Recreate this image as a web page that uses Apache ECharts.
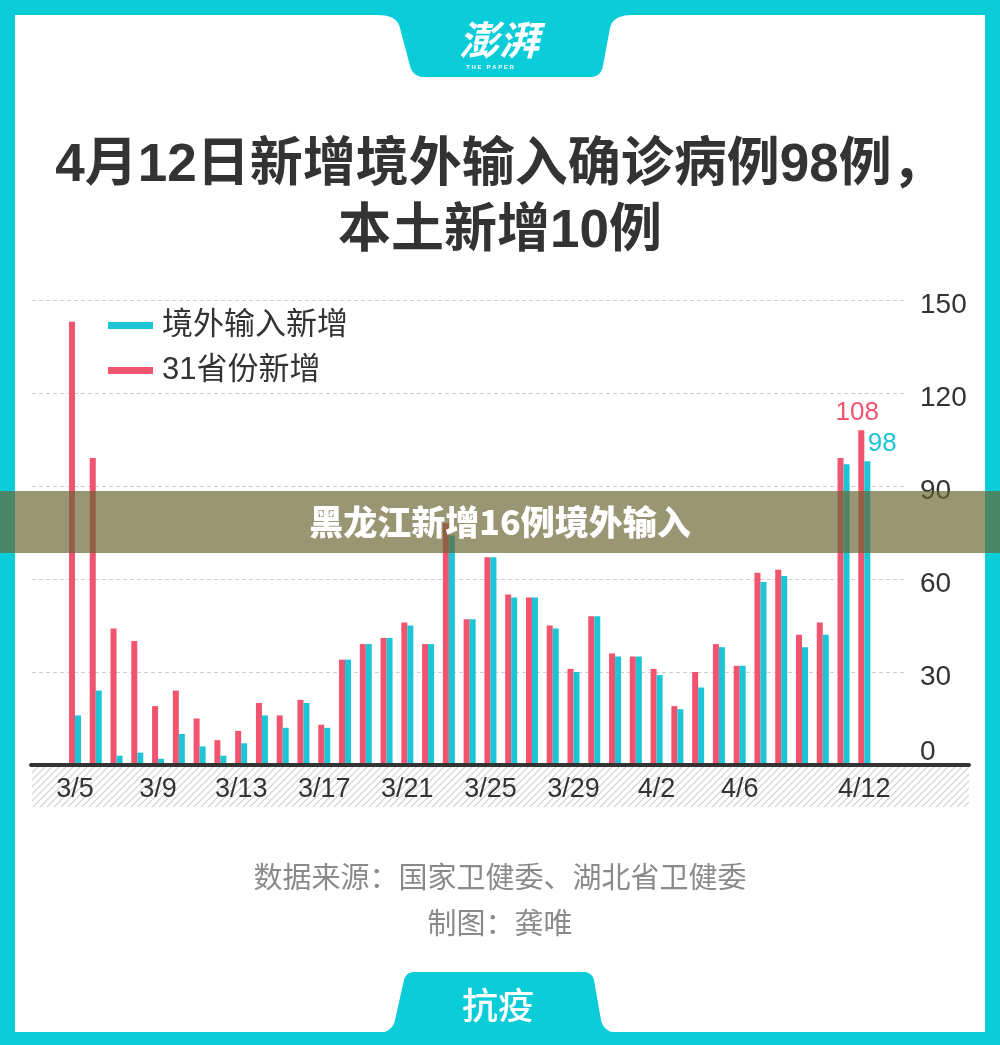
<!DOCTYPE html>
<html>
<head>
<meta charset="utf-8">
<script src="https://cdn.jsdelivr.net/npm/echarts@6/dist/echarts.min.js"></script>
<style>
html,body{margin:0;padding:0;background:#0BCDDA;}
#chart{width:1000px;height:1045px;}
</style>
</head>
<body>
<div id="chart"></div>
<script>
// ---- data ----
const categories = ['3/5','3/6','3/7','3/8','3/9','3/10','3/11','3/12','3/13','3/14','3/15','3/16','3/17','3/18','3/19','3/20','3/21','3/22','3/23','3/24','3/25','3/26','3/27','3/28','3/29','3/30','3/31','4/1','4/2','4/3','4/4','4/5','4/6','4/7','4/8','4/9','4/10','4/11','4/12'];
const tickLabels = ['3/5','3/9','3/13','3/17','3/21','3/25','3/29','4/2','4/6','4/12'];
const provinceNew = [143,99,44,40,19,24,15,8,11,20,16,21,13,34,39,41,46,39,78,47,67,55,54,45,31,48,36,35,31,19,30,39,32,62,63,42,46,99,108];
const importedNew = [16,24,3,4,2,10,6,3,7,16,12,20,12,34,39,41,45,39,74,47,67,54,54,44,30,48,35,35,29,18,25,38,32,59,61,38,42,97,98];
const yTicks = [0,30,60,90,120,150];
const seriesNames = ['境外输入新增','31省份新增'];

const TEAL = '#1BC5D6';
const RED = '#F0546F';
const BORDER = '#0BCDDA';
const LAT = "'Liberation Sans','Noto Sans CJK SC',sans-serif";
const CJK = "'Noto Sans CJK SC','Liberation Sans',sans-serif";

// decorative shape helper: polyline through segments with quadratic curves
function shapePts(cmds) {
  const pts = [];
  let cur = null;
  cmds.forEach(c => {
    if (c[0] === 'M' || c[0] === 'L') { cur = [c[1], c[2]]; pts.push(cur); }
    else if (c[0] === 'Q') {
      const [_, cx, cy, x, y] = c; const p0 = cur;
      for (let t = 1; t <= 10; t++) {
        const s = t / 10, u = 1 - s;
        pts.push([u*u*p0[0] + 2*u*s*cx + s*s*x, u*u*p0[1] + 2*u*s*cy + s*s*y]);
      }
      cur = [x, y];
    }
  });
  return pts;
}
const topTab = shapePts([['M',378,13],['L',378,15],['Q',397,15,400,28],['L',410,66],['Q',413,77,424,77],['L',590,77],['Q',601,77,603,66],['L',610,28],['Q',613,15,632,15],['L',632,13]]);
const botTab = shapePts([['M',372,1034],['Q',392,1034,395,1020],['L',404,980],['Q',406,972,415,972],['L',583,972],['Q',592,972,594,980],['L',601,1020],['Q',604,1034,624,1034]]);

// hatch pattern
const pc = document.createElement('canvas');
pc.width = 7; pc.height = 7;
const pctx = pc.getContext('2d');
pctx.fillStyle = '#ffffff'; pctx.fillRect(0,0,7,7);
pctx.strokeStyle = '#d0d0d0'; pctx.lineWidth = 1.2;
pctx.beginPath();
pctx.moveTo(0,7); pctx.lineTo(7,0);
pctx.moveTo(-1,1); pctx.lineTo(1,-1);
pctx.moveTo(6,8); pctx.lineTo(8,6);
pctx.stroke();

const lastIdx = categories.length - 1;
const redData = provinceNew.map((v,i) => i === lastIdx ? {value:v, label:{show:true, position:'top', distance:4, offset:[-4,0], color:RED, fontSize:26, fontFamily:LAT}} : v);
const tealData = importedNew.map((v,i) => i === lastIdx ? {value:v, label:{show:true, position:'top', distance:4, offset:[15,0], color:TEAL, fontSize:26, fontFamily:LAT}} : v);

const chart = echarts.init(document.getElementById('chart'), null, {renderer:'canvas'});
const option = {
  backgroundColor: BORDER,
  animation: false,
  title: [
    {text:'4月12日新增境外输入确诊病例98例，\n本土新增10例', left:'center', top:128,
     textStyle:{fontSize:53, fontWeight:'bold', color:'#333', fontFamily:LAT, lineHeight:66, align:'center'}},
    {text:'数据来源：国家卫健委、湖北省卫健委', left:'center', top:857,
     textStyle:{fontSize:29, fontWeight:'normal', color:'#8a8a8a', fontFamily:CJK}},
    {text:'制图：龚唯', left:'center', top:903,
     textStyle:{fontSize:29, fontWeight:'normal', color:'#8a8a8a', fontFamily:CJK}}
  ],
  legend: {
    data: seriesNames, orient:'vertical', left:108, top:310, itemGap:14, padding:0,
    itemWidth:45, itemHeight:7, icon:'rect',
    textStyle:{fontSize:31, color:'#333', fontFamily:LAT, lineHeight:30, padding:[0,0,0,4]}
  },
  grid: [
    {left:32, right:94, top:300, bottom:280},
    {left:64.6, right:125.3, top:300, bottom:280},
    {left:31, right:31, top:300, bottom:280}
  ],
  xAxis: [
    {type:'category', gridIndex:0, data:categories, show:false},
    {type:'category', gridIndex:1, data:categories,
     axisLine:{show:false}, axisTick:{show:false},
     axisLabel:{interval:(i,v)=>tickLabels.includes(v), margin:11, fontSize:27, color:'#333', fontFamily:LAT}},
    {type:'category', gridIndex:2, data:categories, z:5,
     axisLine:{show:true, lineStyle:{color:'#333', width:4}}, axisTick:{show:false}, axisLabel:{show:false}}
  ],
  yAxis: [
    {type:'value', gridIndex:0, position:'right', min:yTicks[0], max:yTicks[yTicks.length-1], interval:30,
     axisLine:{show:false}, axisTick:{show:false},
     splitLine:{show:true, lineStyle:{color:'#cfcfcf', type:[4,3], width:1}},
     axisLabel:{margin:14, color:'#333', fontSize:28, fontFamily:LAT,
       formatter: v => v === 0 ? '{z|0}' : '{n|' + v + '}',
       rich:{
         n:{fontSize:28, color:'#333', fontFamily:LAT, padding:[10,0,0,0]},
         z:{fontSize:28, color:'#333', fontFamily:LAT, padding:[0,0,26,0]}
       }}},
    {type:'value', gridIndex:1, min:yTicks[0], max:yTicks[yTicks.length-1], interval:30, show:false, splitLine:{show:false}},
    {type:'value', gridIndex:2, min:0, max:150, show:false, splitLine:{show:false}}
  ],
  series: [
    {name:seriesNames[1], type:'bar', xAxisIndex:1, yAxisIndex:1, barWidth:6, barGap:'0%',
     itemStyle:{color:RED}, data:redData},
    {name:seriesNames[0], type:'bar', xAxisIndex:1, yAxisIndex:1, barWidth:6, barGap:'0%',
     itemStyle:{color:TEAL}, data:tealData}
  ],
  graphic: [
    {type:'rect', z:-10, shape:{x:15, y:15, width:970, height:1017}, style:{fill:'#ffffff'}},
    {type:'polygon', z:-5, shape:{points:topTab}, style:{fill:BORDER}},
    {type:'polygon', z:-5, shape:{points:botTab}, style:{fill:BORDER}},
    {type:'text', z:10, x:499, y:40, style:{text:'澎湃', fill:'#fff', font:"italic bold 40px 'Noto Sans CJK SC'", textAlign:'center', textVerticalAlign:'middle'}},
    {type:'text', z:10, x:490, y:67, style:{text:'T H E   P A P E R', fill:'#fff', font:"bold 6px 'Liberation Sans'", textAlign:'center', textVerticalAlign:'middle'}},
    {type:'text', z:10, x:498, y:1005, style:{text:'抗疫', fill:'#fff', font:"500 36px 'Noto Sans CJK SC'", textAlign:'center', textVerticalAlign:'middle'}},
    {type:'rect', z:-2, shape:{x:32, y:767, width:937, height:40}, style:{fill:{image:pc, repeat:'repeat'}}},
    {type:'rect', z:100, shape:{x:0, y:491, width:1000, height:62}, style:{fill:'rgba(105,100,50,0.68)'}},
    {type:'text', z:101, x:500, y:522, style:{text:'黑龙江新增16例境外输入', fill:'#fff', font:"900 34px 'Noto Sans CJK SC'", textAlign:'center', textVerticalAlign:'middle'}}
  ]
};
chart.setOption(option);
</script>
</body>
</html>
